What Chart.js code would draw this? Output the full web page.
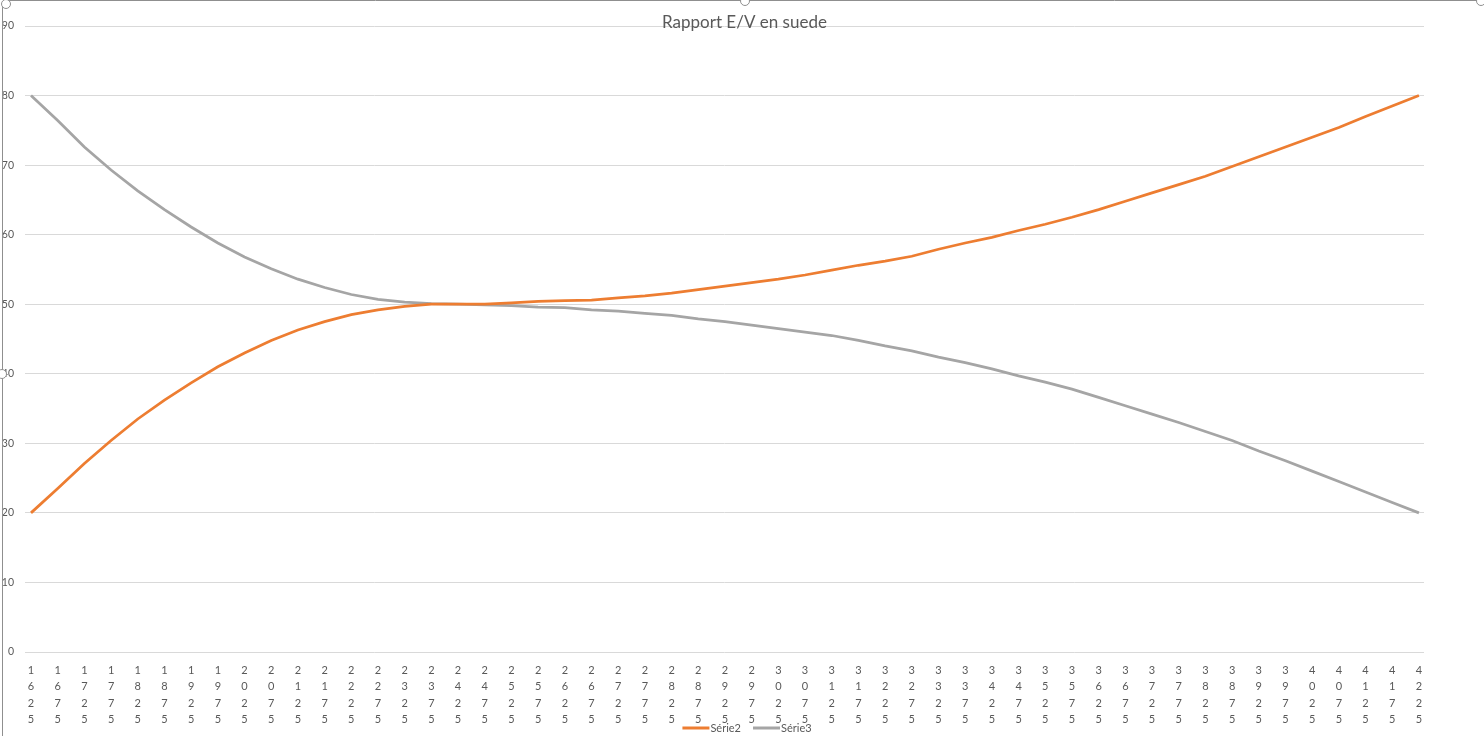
<!DOCTYPE html>
<html>
<head>
<meta charset="utf-8">
<title>Rapport E/V en suede</title>
<script src="https://cdn.jsdelivr.net/npm/chart.js@4.4.1/dist/chart.umd.min.js"></script>
<style>
    html, body { margin: 0; padding: 0; background: #fff; }
    #wrap { width: 1484px; height: 736px; position: relative; }
</style>
</head>
<body>
<div id="wrap"><canvas id="chart"></canvas></div>
<script>
const yearLabels = [
    '1625', '1675', '1725', '1775', '1825', '1875', '1925', '1975', '2025', '2075',
    '2125', '2175', '2225', '2275', '2325', '2375', '2425', '2475', '2525', '2575',
    '2625', '2675', '2725', '2775', '2825', '2875', '2925', '2975', '3025', '3075',
    '3125', '3175', '3225', '3275', '3325', '3375', '3425', '3475', '3525', '3575',
    '3625', '3675', '3725', '3775', '3825', '3875', '3925', '3975', '4025', '4075',
    '4125', '4175', '4225'
];

const serie2 = [
    20.0, 23.5, 27.1, 30.4, 33.5, 36.2, 38.7, 41.0, 43.0, 44.8,
    46.3, 47.5, 48.5, 49.2, 49.7, 50.0, 50.0, 50.0, 50.2, 50.4,
    50.5, 50.6, 50.9, 51.2, 51.6, 52.1, 52.6, 53.1, 53.6, 54.2,
    54.9, 55.6, 56.2, 56.9, 57.9, 58.8, 59.6, 60.6, 61.5, 62.5,
    63.6, 64.8, 66.0, 67.2, 68.4, 69.8, 71.2, 72.6, 74.0, 75.4,
    77.0, 78.5, 80.0
];

const serie3 = [
    80.0, 76.4, 72.6, 69.3, 66.3, 63.6, 61.1, 58.8, 56.8, 55.1,
    53.6, 52.4, 51.4, 50.7, 50.3, 50.1, 50.0, 49.9, 49.8, 49.6,
    49.5, 49.2, 49.0, 48.7, 48.4, 47.9, 47.5, 47.0, 46.5, 46.0,
    45.5, 44.8, 44.0, 43.3, 42.4, 41.6, 40.7, 39.7, 38.8, 37.8,
    36.6, 35.4, 34.2, 33.0, 31.7, 30.4, 28.9, 27.5, 26.0, 24.5,
    23.0, 21.5, 20.0
];

const yTicks = [0, 10, 20, 30, 40, 50, 60, 70, 80, 90];

const textColor = '#595959';
const gridColor = '#d9d9d9';
const fontFamily = "Lato, 'Open Sans', sans-serif";

// legend drawn by hand so it can sit over the last row of axis labels, like in Excel
const bottomLegend = {
    id: 'bottomLegend',
    afterDraw(chart) {
        const { ctx } = chart;
        ctx.save();
        ctx.font = `11px ${fontFamily}`;
        ctx.textBaseline = 'middle';
        const lineLen = 27;
        const gap = 12;
        const items = chart.data.datasets.map(ds => ({
            label: ds.label,
            color: ds.borderColor,
            w: lineLen + 1 + ctx.measureText(ds.label).width
        }));
        const total = items.reduce((s, it) => s + it.w, 0) + gap * (items.length - 1);
        let x = chart.width / 2 + 5 - total / 2;
        const y = 728;
        items.forEach(it => {
            ctx.strokeStyle = it.color;
            ctx.lineWidth = 3;
            ctx.beginPath();
            ctx.moveTo(x, y);
            ctx.lineTo(x + lineLen, y);
            ctx.stroke();
            ctx.fillStyle = textColor;
            ctx.fillText(it.label, x + lineLen + 1, y);
            x += it.w + gap;
        });
        ctx.restore();
    }
};

// Excel selection frame with its handles
const framePlugin = {
    id: 'frame',
    afterDraw(chart) {
        const { ctx } = chart;
        ctx.save();
        ctx.strokeStyle = '#8f8f8f';
        ctx.lineWidth = 1;
        ctx.beginPath();
        ctx.moveTo(6, 0.5);
        ctx.lineTo(1484, 0.5);
        ctx.moveTo(2.5, 6);
        ctx.lineTo(2.5, 736);
        ctx.stroke();
        [[6, 4], [745, 1], [2, 374], [1481, 1]].forEach(([cx, cy]) => {
            ctx.beginPath();
            ctx.arc(cx, cy, 4.5, 0, Math.PI * 2);
            ctx.fillStyle = '#fff';
            ctx.fill();
            ctx.stroke();
        });
        ctx.restore();
    }
};

const ctx = document.getElementById('chart').getContext('2d');
new Chart(ctx, {
    type: 'line',
    data: {
        datasets: [
            {
                label: 'Série2',
                data: serie2.map((v, i) => ({ x: i, y: v })),
                borderColor: '#ED7D31',
                backgroundColor: '#ED7D31',
                borderWidth: 2.75,
                pointRadius: 0,
                tension: 0
            },
            {
                label: 'Série3',
                data: serie3.map((v, i) => ({ x: i, y: v })),
                borderColor: '#A5A5A5',
                backgroundColor: '#A5A5A5',
                borderWidth: 2.75,
                pointRadius: 0,
                tension: 0
            }
        ]
    },
    options: {
        responsive: true,
        maintainAspectRatio: false,
        animation: false,
        layout: { padding: { left: 0, right: -5, top: 0, bottom: 0 } },
        scales: {
            x: {
                type: 'linear',
                min: -0.225,
                max: yearLabels.length - 1 + 0.19,
                grid: { display: false, drawTicks: false },
                border: { display: false },
                afterBuildTicks: (s) => { s.ticks = yearLabels.map((_, i) => ({ value: i })); },
                afterFit: (s) => { s.height = 84; },
                ticks: {
                    autoSkip: false,
                    maxRotation: 0,
                    minRotation: 0,
                    padding: 10,
                    color: textColor,
                    font: { family: fontFamily, size: 11, lineHeight: 1.5 },
                    callback: (v) => (yearLabels[v] || '').split('')
                }
            },
            y: {
                min: 0,
                max: 90,
                afterBuildTicks: (s) => { s.ticks = yTicks.map(v => ({ value: v })); },
                afterFit: (s) => { s.width = 25; },
                grid: { color: gridColor, lineWidth: 1, drawTicks: false },
                border: { display: false },
                ticks: {
                    padding: 11,
                    color: textColor,
                    font: { family: fontFamily, size: 10.5 }
                }
            },
            yRight: {
                position: 'right',
                display: true,
                grid: { display: false, drawTicks: false },
                border: { display: false },
                ticks: { display: false },
                afterFit: (s) => { s.width = 65; }
            }
        },
        plugins: {
            title: {
                display: true,
                text: 'Rapport E/V en suede',
                color: textColor,
                font: { family: fontFamily, size: 17, weight: 'normal', lineHeight: 1.2 },
                padding: { top: 12, bottom: -6.4 }
            },
            legend: { display: false },
            tooltip: { enabled: false }
        }
    },
    plugins: [bottomLegend, framePlugin]
});
</script>
</body>
</html>
